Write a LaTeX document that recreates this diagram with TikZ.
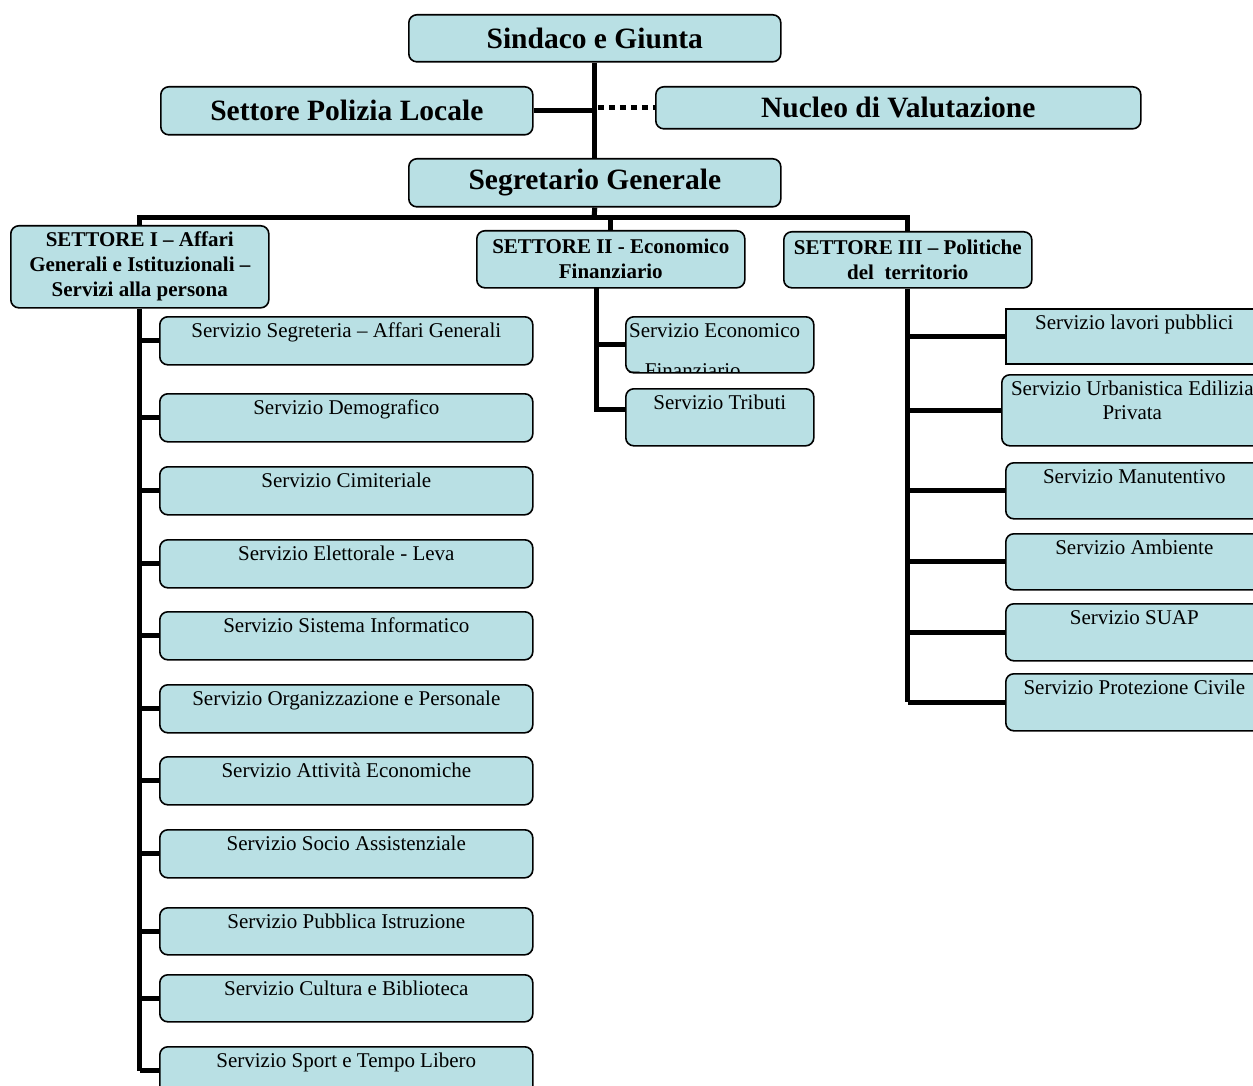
\documentclass[tikz,border=0pt]{standalone}
\usepackage{fontspec}
\setmainfont{Liberation Serif}
\definecolor{boxfill}{RGB}{185,224,228}
\tikzset{
 box/.style={draw=black, line width=1.6pt, fill=boxfill, rounded corners=8pt, inner sep=0pt, anchor=north west},
 sqbox/.style={box, rounded corners=0pt},
 conn/.style={line width=5pt, black},
 dotconn/.style={line width=5pt, black, dash pattern=on 6pt off 5pt},
 big/.style={font=\fontsize{29.5}{32}\selectfont\bfseries, inner sep=0pt},
 sect/.style={font=\fontsize{21}{25}\selectfont\bfseries, align=center, inner sep=0pt},
 serv/.style={font=\fontsize{21}{24}\selectfont, anchor=north, inner sep=0pt, align=center, yshift=-7pt},
}
\newcommand\bx[6][]{\node[box,#1, minimum width={#4-#2}, minimum height={#5-#3}] (#6) at (#2,#3) {};}
\begin{document}
\begin{tikzpicture}[x=1pt,y=-1pt]
\useasboundingbox (0,0) rectangle (1253,1086);
% top level boxes
\bx{408}{14}{780}{61}{sind}
\bx{160}{86}{532}{134}{pol}
\bx{655}{86}{1140}{128}{nuc}
\bx{408}{158}{780}{206}{seg}
\node[big] (tsind) at (sind.center) {Sindaco e Giunta};
\node[big] (tpol) at (pol.center) {Settore Polizia Locale};
\node[big] (tnuc) at (nuc.center) {Nucleo di Valutazione};
\node[big] (tseg) at (seg.center) {Segretario Generale};
% settori
\bx{10}{225}{268}{307}{s1}
\bx{476}{230}{744}{287}{s2}
\bx{783}{231}{1031}{287}{s3}
\node[sect] (ts1) at (s1.center) {SETTORE I -- Affari\\Generali e Istituzionali --\\Servizi alla persona};
\node[sect] (ts2) at (s2.center) {SETTORE II - Economico\\Finanziario};
\node[sect] (ts3) at (s3.center) {SETTORE III -- Politiche\\del\ \ territorio};
% connectors top
\coordinate (bus) at (594,218);
\draw[conn] (sind.south) -- (seg.north);
\draw[conn] (pol.east) -- (pol.east -| sind.south);
\draw[dotconn] (nuc.west -| sind.south) ++(3,0) -- (nuc.west);
\draw[conn] (seg.south) -- (bus);
\draw[conn] (s1.north) |- (bus) -| (s3.north);
\draw[conn] (bus -| s2.north) -- (s2.north);
% settore I services
\bx{159}{316}{532}{364}{a1}
\bx{159}{393}{532}{441}{a2}
\bx{159}{466}{532}{514}{a3}
\bx{159}{539}{532}{587}{a4}
\bx{159}{611}{532}{659}{a5}
\bx{159}{684}{532}{732}{a6}
\bx{159}{756}{532}{804}{a7}
\bx{159}{829}{532}{877}{a8}
\bx{159}{907}{532}{954}{a9}
\bx{159}{974}{532}{1021}{a10}
\bx{159}{1046}{532}{1094}{a11}
\node[serv] (ta1) at (a1.north) {Servizio Segreteria -- Affari Generali};
\node[serv] (ta2) at (a2.north) {Servizio Demografico};
\node[serv] (ta3) at (a3.north) {Servizio Cimiteriale};
\node[serv] (ta4) at (a4.north) {Servizio Elettorale - Leva};
\node[serv] (ta5) at (a5.north) {Servizio Sistema Informatico};
\node[serv] (ta6) at (a6.north) {Servizio Organizzazione e Personale};
\node[serv] (ta7) at (a7.north) {Servizio Attività Economiche};
\node[serv] (ta8) at (a8.north) {Servizio Socio Assistenziale};
\node[serv] (ta9) at (a9.north) {Servizio Pubblica Istruzione};
\node[serv] (ta10) at (a10.north) {Servizio Cultura e Biblioteca};
\node[serv] (ta11) at (a11.north) {Servizio Sport e Tempo Libero};
\draw[conn] (s1.south) -- (s1.south |- a11.west);
\foreach \n in {a1,a2,a3,a4,a5,a6,a7,a8,a9,a10,a11}
  \draw[conn] (s1.south |- \n.west) -- (\n.west);
% settore II services
\bx{625}{316}{813}{372}{b1}
\bx{625}{388}{813}{445}{b2}
\begin{scope}
\clip (b1.north west) ++(1,1) rectangle ([xshift=-1pt,yshift=1pt]b1.south east);
\node[font=\fontsize{21}{40}\selectfont, align=left, anchor=north west, inner sep=0pt] (tb1) at ([xshift=4pt,yshift=-7pt]b1.north west) {Servizio Economico\\-- Finanziario};
\end{scope}
\node[serv] (tb2) at (b2.north) {Servizio Tributi};
\coordinate (v2) at (596,287);
\draw[conn] (v2) -- (596,409) -- (625,409);
\draw[conn] (v2 |- b1.west) -- (b1.west);
% settore III services
\node[sqbox, minimum width={1262-1005}, minimum height={363-308}] (c1) at (1005,308) {};
\bx{1001}{374}{1262}{445}{c2}
\bx{1005}{462}{1262}{518}{c3}
\bx{1005}{533}{1262}{589}{c4}
\bx{1005}{603}{1262}{660}{c5}
\bx{1005}{673}{1262}{730}{c6}
\node[serv] (tc1) at (c1.north) {Servizio lavori pubblici};
\node[serv] (tc2) at (c2.north) {Servizio Urbanistica Edilizia\\Privata};
\node[serv] (tc3) at (c3.north) {Servizio Manutentivo};
\node[serv] (tc4) at (c4.north) {Servizio Ambiente};
\node[serv] (tc5) at (c5.north) {Servizio SUAP};
\node[serv] (tc6) at (c6.north) {Servizio Protezione Civile};
\draw[conn] (s3.south) -- (s3.south |- c6.west);
\foreach \n in {c1,c2,c3,c4,c5,c6}
  \draw[conn] (s3.south |- \n.west) -- (\n.west);
\end{tikzpicture}
\end{document}
